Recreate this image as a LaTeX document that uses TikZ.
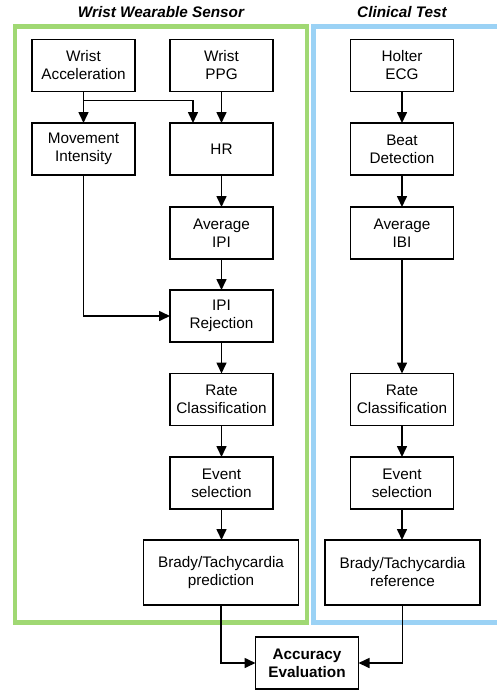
\documentclass[tikz,border=0pt]{standalone}
\usepackage{fontspec}
\setmainfont{Liberation Sans}
\usetikzlibrary{arrows.meta}
\definecolor{framegreen}{RGB}{160,216,115}
\definecolor{frameblue}{RGB}{155,210,245}
\begin{document}
\begin{tikzpicture}[x=1pt,y=-1pt,
  box/.style={draw=black,line width=1.8pt,fill=white,inner sep=0pt,outer sep=0pt,
    minimum width=103pt,minimum height=52pt,align=center,
    font=\fontsize{15.3}{18}\selectfont},
  widebox/.style={box,minimum width=155pt,minimum height=65pt},
  arr/.style={line width=1.6pt,-{Triangle[length=11pt,width=10pt]}},
  title/.style={font=\fontsize{15.3}{18}\selectfont\bfseries\itshape}]
\useasboundingbox (0,0) rectangle (497,693);
\clip (0,0) rectangle (497,693);
% frames
\draw[framegreen,line width=4.5pt] (15,26.5) rectangle (307,622.5);
\draw[frameblue,line width=4.5pt] (313.5,26.5) rectangle (520,622.5);
\node[title] (t1) at (161,12) {Wrist Wearable Sensor};
\node[title] (t2) at (402,12) {Clinical Test};
% left column
\node[box] (wa) at (83.5,65.5) {Wrist\\Acceleration};
\node[box] (ppg) at (221.5,65.5) {Wrist\\PPG};
\node[box] (mi) at (83.5,149) {Movement\\Intensity};
\node[box] (hr) at (221.5,149) {HR};
\node[box] (aipi) at (221.5,233) {Average\\IPI};
\node[box] (rej) at (221.5,316) {IPI\\Rejection};
\node[box] (rc1) at (221.5,399.5) {Rate\\Classification};
\node[box] (ev1) at (221.5,483) {Event\\selection};
\node[widebox] (bp) at (221,572.5) {Brady/Tachycardia\\prediction};
% right column
\node[box] (hol) at (402,65.5) {Holter\\ECG};
\node[box] (beat) at (402,149) {Beat\\Detection};
\node[box] (aibi) at (402,233) {Average\\IBI};
\node[box] (rc2) at (402,399.5) {Rate\\Classification};
\node[box] (ev2) at (402,483) {Event\\selection};
\node[widebox] (br) at (402.5,572.5) {Brady/Tachycardia\\reference};
% bottom
\node[box,font=\fontsize{15.3}{18}\selectfont\bfseries] (acc) at (307,663) {Accuracy\\Evaluation};
% connectors
\draw[arr] (wa) -- (mi);
\draw[arr] (wa.south) -- ++(0,9) -| ([xshift=-28.5pt]hr.north);
\draw[arr] (ppg) -- (hr);
\draw[arr] (mi.south) |- (rej.west);
\draw[arr] (hr) -- (aipi);
\draw[arr] (aipi) -- (rej);
\draw[arr] (rej) -- (rc1);
\draw[arr] (rc1) -- (ev1);
\draw[arr] (ev1) -- (ev1|-bp.north);
\draw[arr] (hol) -- (beat);
\draw[arr] (beat) -- (aibi);
\draw[arr] (aibi) -- (rc2);
\draw[arr] (rc2) -- (ev2);
\draw[arr] (ev2) -- (ev2|-br.north);
\draw[arr] (bp.south) |- (acc.west);
\draw[arr] (br.south) |- (acc.east);
\end{tikzpicture}
\end{document}
